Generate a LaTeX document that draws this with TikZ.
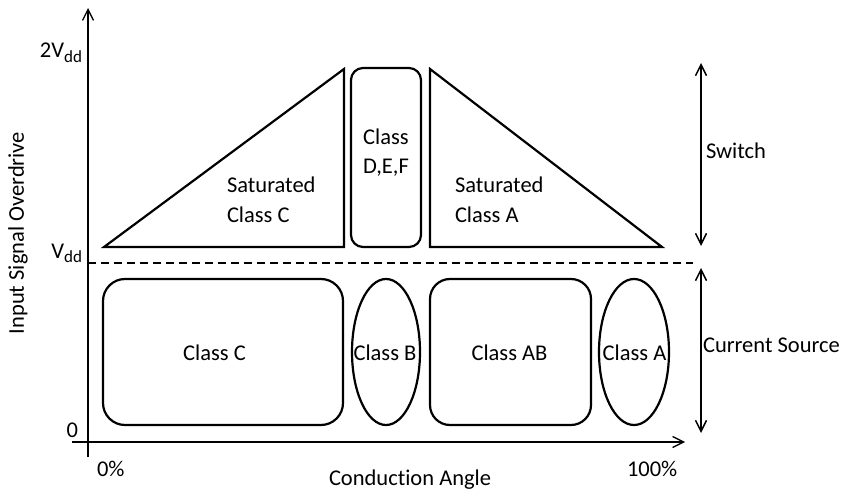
\documentclass[tikz,border=0pt]{standalone}
\usepackage{fontspec}
\setmainfont{Carlito}[Ligatures=NoCommon]
\usetikzlibrary{arrows.meta,shapes.geometric}

\newcommand{\lowsub}[1]{\raisebox{-4.5pt}{\fontsize{17}{20}\selectfont #1}}

\begin{document}
\begin{tikzpicture}[x=1pt,y=-1pt,
  every node/.style={font=\fontsize{22.5}{29}\selectfont, inner sep=0pt, outer sep=0pt},
  regionline/.style={draw, line width=2.2pt, line join=miter},
  roundbox/.style={regionline, rectangle, rounded corners=#1},
  ovalbox/.style={regionline, ellipse},
  axisline/.style={line width=1.3pt, -{Straight Barb[length=11pt,width=11pt]}},
  spanarrow/.style={line width=1.5pt, {Straight Barb[length=11pt,width=11pt]}-{Straight Barb[length=11pt,width=11pt]}},
  levelline/.style={line width=1.3pt, dash pattern=on 8pt off 5pt},
]
\useasboundingbox (0,0) rectangle (846,492);

% axes
\coordinate (yaxisbot) at (88,457);
\coordinate (yaxistop) at (88,8);
\coordinate (xaxisleft) at (72,442);
\coordinate (xaxisright) at (685,442);
\draw[axisline] (yaxisbot) -- (yaxistop);
\draw[axisline] (xaxisleft) -- (xaxisright);

% V_dd level
\coordinate (vddleft) at (88,263);
\coordinate (vddright) at (693,263);
\draw[levelline] (vddleft) -- (vddright);

% axis labels and ticks
\node[anchor=base east] (lbl2vdd) at (82,58) {2V\lowsub{dd}};
\node[anchor=base east] (lblvdd) at (82,258) {V\lowsub{dd}};
\node[anchor=base east] (lblzero) at (78,437) {0};
\node[anchor=base west] (lblzeropct) at (97,476) {0\%};
\node[anchor=base west] (lblfullpct) at (627,476) {100\%};
\node[anchor=base west] (lblangle) at (329,485) {Conduction Angle};
\node[rotate=90] (lbloverdrive) at (18,233) {Input Signal Overdrive};

% saturated (switch-mode) regions
\coordinate (scA) at (104,247);
\coordinate (scB) at (344,69);
\coordinate (scC) at (344,247);
\draw[regionline] (scA) -- (scB) -- (scC) -- cycle;
\coordinate (saA) at (430,69);
\coordinate (saB) at (430,247);
\coordinate (saC) at (662,247);
\draw[regionline] (saA) -- (saB) -- (saC) -- cycle;
\node[roundbox=12pt, minimum width=70pt, minimum height=179pt] (classdef) at (386,157.5) {};

% multi-line labels: base anchor sits on the last line
\node[anchor=base west, align=left] (txtsatc) at (227,222) {Saturated\\Class C};
\node[anchor=base west, align=left] (txtsata) at (455,222) {Saturated\\Class A};
\node[anchor=base, align=center] (txtdef) at (386,174) {Class\\D,E,F};

% current-source regions
\node[roundbox=22pt, minimum width=240pt, minimum height=146pt] (classc) at (223,352) {};
\node[ovalbox, minimum width=68pt, minimum height=146pt] (classb) at (386,352) {};
\node[roundbox=20pt, minimum width=161pt, minimum height=146pt] (classab) at (510.5,352) {};
\node[ovalbox, minimum width=70pt, minimum height=146pt] (classa) at (634,352) {};

\node[anchor=base] (txtc) at (214.5,360) {Class C};
\node[anchor=base] (txtb) at (385,360) {Class B};
\node[anchor=base] (txtab) at (509.5,360) {Class AB};
\node[anchor=base] (txta) at (634.5,360) {Class A};

% operating-mode spans
\coordinate (swtop) at (701,63);
\coordinate (swbot) at (701,246);
\coordinate (cstop) at (701,268);
\coordinate (csbot) at (701,433);
\draw[spanarrow] (swtop) -- (swbot);
\draw[spanarrow] (cstop) -- (csbot);
\node[anchor=base west] (txtswitch) at (706,158) {Switch};
\node[anchor=base west] (txtcurrent) at (703,352) {Current Source};
\end{tikzpicture}
\end{document}
